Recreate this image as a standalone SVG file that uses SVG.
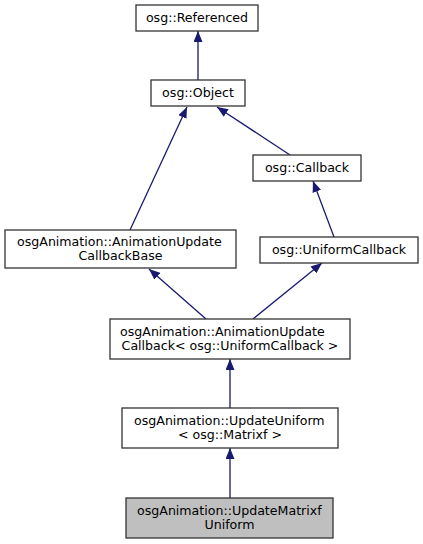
<svg xmlns="http://www.w3.org/2000/svg" width="423" height="544" viewBox="0 0 423 544">
<defs>
<style>
.node rect{fill:#ffffff;stroke:#333333;stroke-width:1.3}
.node.hl rect{fill:#bfbfbf}
text{font-family:"DejaVu Sans","Liberation Sans",sans-serif;font-size:12.6px;fill:#000}
.m{text-anchor:middle}
.s{text-anchor:start}
.edges path{fill:none;stroke:#191970;stroke-width:1.3;marker-end:url(#ah)}
</style>
<marker id="ah" viewBox="0 0 11 9" refX="11" refY="4.5" markerWidth="11" markerHeight="9" markerUnits="userSpaceOnUse" orient="auto">
<path d="M0,0 L11,4.5 L0,9 Z" fill="#191970" stroke="none"/>
</marker>
</defs>
<rect width="423" height="544" fill="#ffffff"/>
<g class="edges" id="edges">
<path d="M198,80 L198,31"/>
<path d="M130,230 L187,107"/>
<path d="M290,155 L217,107"/>
<path d="M334,237 L313,181"/>
<path d="M206,319 L149,269"/>
<path d="M253,319 L322,263"/>
<path d="M230,408 L230,359"/>
<path d="M230,498 L230,448"/>
</g>
<g class="node" id="n_referenced">
<rect x="136" y="5" width="122" height="26"/>
<text class="m" x="197" y="22">osg::Referenced</text>
</g>
<g class="node" id="n_object">
<rect x="151" y="80" width="94" height="26"/>
<text class="m" x="198" y="97">osg::Object</text>
</g>
<g class="node" id="n_callback">
<rect x="253" y="155" width="108" height="26"/>
<text class="m" x="307" y="172">osg::Callback</text>
</g>
<g class="node" id="n_aucb">
<rect x="5" y="230" width="231" height="38"/>
<text class="s" x="17" y="246">osgAnimation::AnimationUpdate</text>
<text class="m" x="120.5" y="259.5">CallbackBase</text>
</g>
<g class="node" id="n_uniformcallback">
<rect x="260" y="237" width="158" height="26"/>
<text class="m" x="339" y="254">osg::UniformCallback</text>
</g>
<g class="node" id="n_auc">
<rect x="110" y="319" width="240" height="40"/>
<text class="s" x="120" y="336">osgAnimation::AnimationUpdate</text>
<text class="m" x="230" y="349.5">Callback&lt; osg::UniformCallback &gt;</text>
</g>
<g class="node" id="n_uu">
<rect x="122" y="408" width="216" height="40"/>
<text class="s" x="134" y="425">osgAnimation::UpdateUniform</text>
<text class="m" x="230" y="438.5">&lt; osg::Matrixf &gt;</text>
</g>
<g class="node hl" id="n_umu">
<rect x="126" y="498" width="207" height="40"/>
<text class="s" x="137" y="515">osgAnimation::UpdateMatrixf</text>
<text class="m" x="229.5" y="528.5">Uniform</text>
</g>
</svg>
